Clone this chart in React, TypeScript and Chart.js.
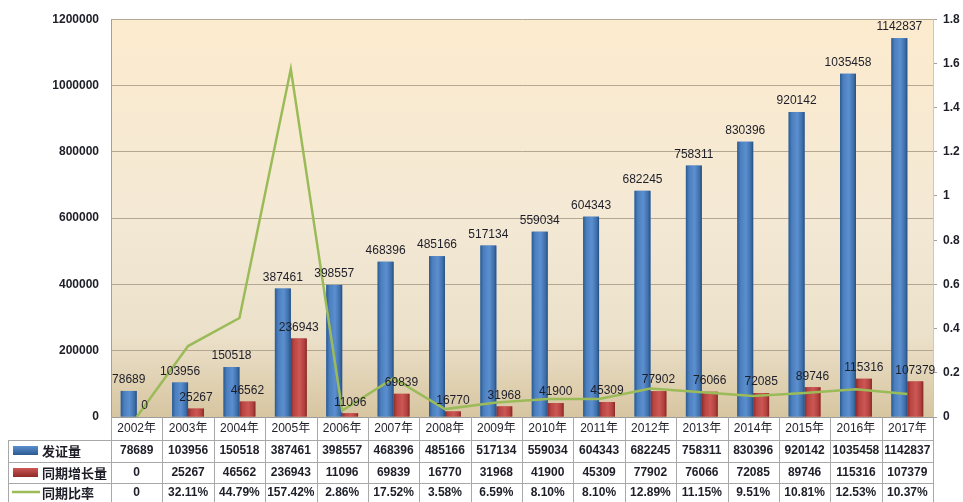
import React, { useEffect, useRef } from 'react';
import { Chart, registerables } from 'chart.js';

Chart.register(...registerables);

const categories = ['2002年', '2003年', '2004年', '2005年', '2006年', '2007年', '2008年', '2009年', '2010年', '2011年', '2012年', '2013年', '2014年', '2015年', '2016年', '2017年'];
const issued = [78689, 103956, 150518, 387461, 398557, 468396, 485166, 517134, 559034, 604343, 682245, 758311, 830396, 920142, 1035458, 1142837];
const growth = [0, 25267, 46562, 236943, 11096, 69839, 16770, 31968, 41900, 45309, 77902, 76066, 72085, 89746, 115316, 107379];
const ratio = [0, 0.3211, 0.4479, 1.5742, 0.0286, 0.1752, 0.0358, 0.0659, 0.081, 0.081, 0.1289, 0.1115, 0.0951, 0.1081, 0.1253, 0.1037];
const seriesNames = ['发证量', '同期增长量', '同期比率'];

const fmtRatio = (r: number) => (r === 0 ? '0' : (r * 100).toFixed(2) + '%');

const GRID = '#B4A892';
const TABLE_LINE = '#A8A8A8';
const TEXT = '#1E1E28';

export default function App() {
  const ref = useRef<HTMLCanvasElement>(null);

  useEffect(() => {
    const canvas = ref.current!;
    const bgPlugin = {
      id: 'bg',
      beforeDraw(chart: any) {
        const { ctx, chartArea: a } = chart;
        const g = ctx.createLinearGradient(0, a.top, 0, a.bottom);
        g.addColorStop(0, '#FCEBCE');
        g.addColorStop(0.5, '#F4E9D5');
        g.addColorStop(0.8, '#EBE0C9');
        g.addColorStop(1, '#D7C5A0');
        ctx.save();
        ctx.fillStyle = g;
        ctx.fillRect(a.left, a.top, a.right - a.left, a.bottom - a.top);
        ctx.restore();
      },
    };

    const barShade = {
      id: 'barShade',
      afterDatasetDraw(chart: any, args: any) {
        if (args.index > 1) return;
        const ctx = chart.ctx;
        const meta = args.meta;
        const stops = args.index === 0
          ? ['#2B5A91', '#4A7EBD', '#5B8FCF', '#3F6FAA', '#254E80']
          : ['#8E2B29', '#B94643', '#CC5754', '#B0403D', '#832725'];
        ctx.save();
        meta.data.forEach((el: any) => {
          const w = el.width;
          const x0 = el.x - w / 2;
          const top = Math.min(el.y, el.base);
          const h = Math.abs(el.base - el.y);
          if (h <= 0) return;
          const g = ctx.createLinearGradient(x0, 0, x0 + w, 0);
          g.addColorStop(0, stops[0]);
          g.addColorStop(0.2, stops[1]);
          g.addColorStop(0.55, stops[2]);
          g.addColorStop(0.85, stops[3]);
          g.addColorStop(1, stops[4]);
          ctx.fillStyle = g;
          ctx.fillRect(x0, top, w, h);
        });
        ctx.restore();
      },
    };

    const labelsPlugin = {
      id: 'valueLabels',
      afterDatasetsDraw(chart: any) {
        const ctx = chart.ctx;
        ctx.save();
        ctx.font = '12px "Liberation Sans", Arial, sans-serif';
        ctx.fillStyle = TEXT;
        ctx.textAlign = 'center';
        ctx.textBaseline = 'bottom';
        [0, 1].forEach((di) => {
          const meta = chart.getDatasetMeta(di);
          const vals = di === 0 ? issued : growth;
          meta.data.forEach((el: any, i: number) => {
            ctx.fillText(String(vals[i]), el.x, el.y - 5);
          });
        });
        ctx.restore();
      },
    };

    const tablePlugin = {
      id: 'table',
      afterDraw(chart: any) {
        const ctx = chart.ctx;
        const a = chart.chartArea;
        const x = chart.scales.x;
        const n = categories.length;
        const colW = (a.right - a.left) / n;
        const rowY = [a.bottom, 440, 462, 483, 510];
        const tableLeft = 8;
        ctx.save();
        ctx.strokeStyle = '#9C9C9C';
        ctx.lineWidth = 1;
        ctx.beginPath();
        ctx.moveTo(a.left, a.bottom + 0.5);
        ctx.lineTo(a.right, a.bottom + 0.5);
        ctx.stroke();
        ctx.strokeStyle = TABLE_LINE;
        for (let r = 1; r <= 3; r++) {
          ctx.beginPath();
          ctx.moveTo(tableLeft, rowY[r] + 0.5);
          ctx.lineTo(a.right, rowY[r] + 0.5);
          ctx.stroke();
        }
        for (let i = 0; i <= n; i++) {
          const xx = Math.round(a.left + i * colW) + 0.5;
          ctx.beginPath();
          ctx.moveTo(xx, a.bottom);
          ctx.lineTo(xx, 502);
          ctx.stroke();
        }
        ctx.beginPath();
        ctx.moveTo(tableLeft + 0.5, rowY[1]);
        ctx.lineTo(tableLeft + 0.5, 502);
        ctx.stroke();

        const centers = [429, 451, 473, 493];
        ctx.textAlign = 'center';
        ctx.textBaseline = 'middle';
        ctx.fillStyle = TEXT;
        for (let i = 0; i < n; i++) {
          const cx = x.getPixelForValue(i);
          ctx.font = '12px "Liberation Sans", "Noto Sans CJK SC", sans-serif';
          ctx.fillText(categories[i], cx, centers[0]);
          ctx.font = 'bold 12px "Liberation Sans", Arial, sans-serif';
          ctx.fillText(String(issued[i]), cx, centers[1]);
          ctx.fillText(String(growth[i]), cx, centers[2]);
          ctx.fillText(fmtRatio(ratio[i]), cx, centers[3]);
        }
        let g = ctx.createLinearGradient(0, 446, 0, 455);
        g.addColorStop(0, '#5B8FCF');
        g.addColorStop(1, '#2B5A91');
        ctx.fillStyle = g;
        ctx.fillRect(13, 446, 25, 9);
        g = ctx.createLinearGradient(0, 468, 0, 477);
        g.addColorStop(0, '#CC5754');
        g.addColorStop(1, '#8E2B29');
        ctx.fillStyle = g;
        ctx.fillRect(13, 468, 25, 9);
        ctx.strokeStyle = '#9BBB59';
        ctx.lineWidth = 2.5;
        ctx.beginPath();
        ctx.moveTo(12, 492);
        ctx.lineTo(40, 492);
        ctx.stroke();
        ctx.textAlign = 'left';
        ctx.fillStyle = TEXT;
        ctx.font = 'bold 13px "Noto Sans CJK SC", sans-serif';
        ctx.fillText(seriesNames[0], 42, centers[1]);
        ctx.fillText(seriesNames[1], 42, centers[2]);
        ctx.fillText(seriesNames[2], 42, centers[3]);
        ctx.restore();
      },
    };

    const chart = new Chart(canvas, {
      type: 'bar',
      data: {
        labels: categories,
        datasets: [
          {
            label: seriesNames[0],
            data: issued,
            backgroundColor: '#4F81BD',
            yAxisID: 'y',
            order: 1,
            categoryPercentage: 0.62,
            barPercentage: 1,
          },
          {
            label: seriesNames[1],
            data: growth,
            backgroundColor: '#C0504D',
            yAxisID: 'y',
            order: 1,
            categoryPercentage: 0.62,
            barPercentage: 1,
          },
          {
            type: 'line',
            label: seriesNames[2],
            data: ratio,
            borderColor: '#9BBB59',
            borderWidth: 2.5,
            pointRadius: 0,
            tension: 0,
            yAxisID: 'y1',
            order: 0,
          } as any,
        ],
      },
      options: {
        responsive: false,
        animation: false,
        devicePixelRatio: 1,
        layout: { padding: { top: 17, bottom: 85, left: 8, right: 0 } },
        plugins: {
          legend: { display: false },
          tooltip: { enabled: false },
          title: { display: false },
        },
        scales: {
          x: {
            display: false,
            grid: { display: false },
          },
          y: {
            position: 'left',
            min: 0,
            max: 1200000,
            afterFit: (s: any) => { s.width = 103; },
            ticks: {
              stepSize: 200000,
              padding: 12,
              color: TEXT,
              font: { family: '"Liberation Sans", Arial, sans-serif', size: 12, weight: 'bold' },
              callback: (v: any) => String(v),
            },
            grid: { color: GRID, lineWidth: 1, drawTicks: false },
            border: { display: true, color: '#A0A0A0' },
          },
          y1: {
            position: 'right',
            min: 0,
            max: 1.8,
            afterFit: (s: any) => { s.width = 30; },
            ticks: {
              stepSize: 0.2,
              padding: 6,
              color: TEXT,
              font: { family: '"Liberation Sans", Arial, sans-serif', size: 12, weight: 'bold' },
              callback: (v: any) => String(Math.round(v * 10) / 10),
            },
            grid: { drawOnChartArea: false, tickLength: 4, color: '#A0A0A0' },
            border: { display: true, color: '#C8C8C8' },
          },
        },
      },
      plugins: [bgPlugin, barShade, labelsPlugin, tablePlugin],
    });
    return () => chart.destroy();
  }, []);

  return (
    <div style={{ position: 'absolute', left: 0, top: 0, width: 963, height: 502, background: '#fff', overflow: 'hidden' }}>
      <canvas ref={ref} width={963} height={502} style={{ display: 'block' }} />
    </div>
  );
}
